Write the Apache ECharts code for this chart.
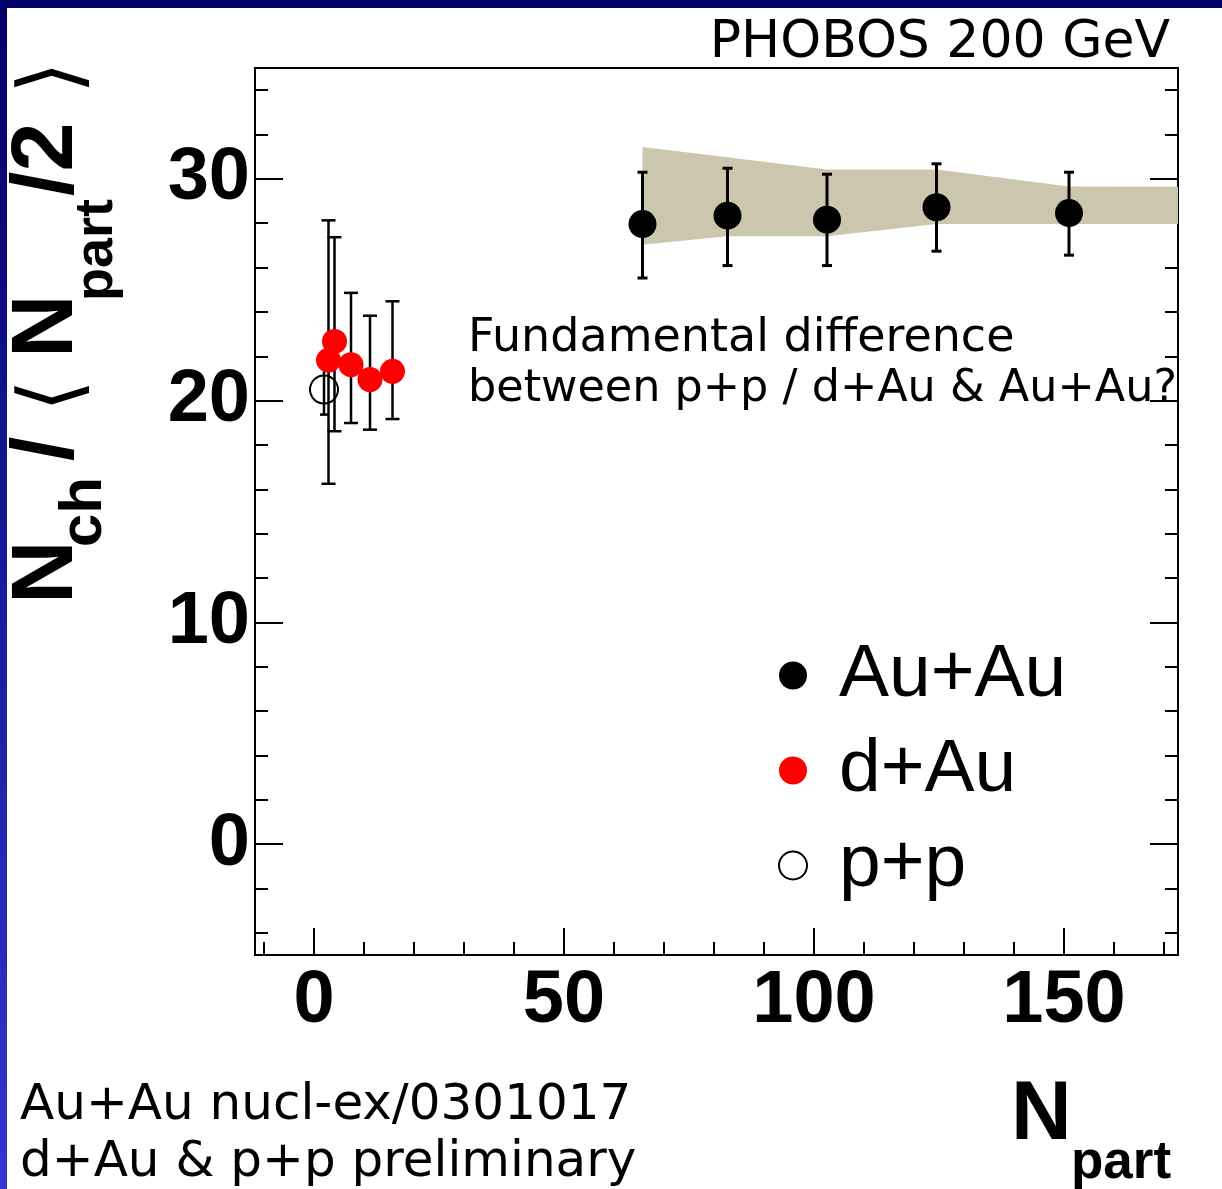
<!DOCTYPE html>
<html><head><meta charset="utf-8">
<script src="https://cdn.jsdelivr.net/npm/echarts@6/dist/echarts.min.js"></script>
<style>html,body{margin:0;padding:0;background:#fff}#c{width:1222px;height:1189px}</style>
</head><body><div id="c"></div>
<script>
// ---- data ----
const auauX  = [65.7, 82.7, 102.6, 124.5, 151.0];
const auauY  = [27.96, 28.34, 28.16, 28.72, 28.46];
const auauLo = [25.53, 26.09, 26.09, 26.74, 26.56];
const auauHi = [30.30, 30.48, 30.21, 30.68, 30.30];

const dauX  = [2.9, 4.1, 7.4, 11.2, 15.7];
const dauY  = [21.82, 22.67, 21.62, 20.95, 21.32];
const dauLo = [16.25, 18.62, 18.99, 18.69, 19.17];
const dauHi = [28.13, 27.37, 24.86, 23.83, 24.48];

const ppX  = [2.0];
const ppY  = [20.5];
const ppLo = [19.37];
const ppHi = [21.63];

// systematic band for Au+Au
const bandX  = [65.7, 82.7, 102.6, 124.5, 151.0, 172.8];
const bandHi = [31.44, 30.97, 30.42, 30.42, 29.66, 29.64];
const bandLo = [27.03, 27.41, 27.41, 27.97, 27.97, 27.97];

// ticks
const xMajorTicks = [0, 50, 100, 150];
const xMinorTicks = [-10, 10, 20, 30, 40, 60, 70, 80, 90, 110, 120, 130, 140, 160, 170];
const yMajorTicks = [0, 10, 20, 30];
const yMinorTicks = [-4, -2, 2, 4, 6, 8, 12, 14, 16, 18, 22, 24, 26, 28, 32, 34];

const X_MIN = -11.8, X_MAX = 172.8, Y_MIN = -5, Y_MAX = 35;

const FB = '"Liberation Sans", Arial, Helvetica, sans-serif';
const FV = '"DejaVu Sans", Verdana, sans-serif';

const chart = echarts.init(document.getElementById('c'));

function errorBars(name, xs, lo, hi, capHalf, lw) {
  return {
    type: 'custom', name: name, z: 3, silent: true,
    data: xs.map((x, i) => [x, lo[i], hi[i]]),
    encode: { x: 0, y: [1, 2] },
    renderItem: function (params, api) {
      const x = api.value(0);
      const a = api.coord([x, api.value(1)]);
      const b = api.coord([x, api.value(2)]);
      const st = { stroke: '#000', lineWidth: lw };
      return { type: 'group', children: [
        { type: 'line', shape: { x1: a[0], y1: a[1], x2: b[0], y2: b[1] }, style: st },
        { type: 'line', shape: { x1: a[0] - capHalf, y1: a[1], x2: a[0] + capHalf, y2: a[1] }, style: st },
        { type: 'line', shape: { x1: b[0] - capHalf, y1: b[1], x2: b[0] + capHalf, y2: b[1] }, style: st }
      ]};
    }
  };
}

function xAxisDef(ticks, len, labels) {
  return {
    type: 'value', min: X_MIN, max: X_MAX, position: 'bottom',
    axisLine: { show: labels, onZero: false, lineStyle: { color: '#000', width: 2 } },
    axisTick: { show: true, inside: true, length: len, customValues: ticks, lineStyle: { color: '#000', width: 2 } },
    axisLabel: labels ? { show: true, customValues: ticks, fontFamily: FB, fontWeight: 'bold', fontSize: 74, color: '#000', margin: 10 } : { show: false },
    splitLine: { show: false }
  };
}
function yAxisDef(pos, ticks, len, labels) {
  return {
    type: 'value', min: Y_MIN, max: Y_MAX, position: pos,
    axisLine: { show: len > 20, onZero: false, lineStyle: { color: '#000', width: 2 } },
    axisTick: { show: true, inside: true, length: len, customValues: ticks, lineStyle: { color: '#000', width: 2 } },
    axisLabel: labels ? { show: true, customValues: ticks, fontFamily: FB, fontWeight: 'bold', fontSize: 74, color: '#000', margin: 5, padding: [0, 0, 12, 0] } : { show: false },
    splitLine: { show: false }
  };
}

function t(text, x, y, font, size, weight, align, extra) {
  return Object.assign({ type: 'text', x: x, y: y, silent: true,
    style: { text: text, font: (weight || 'normal') + ' ' + size + 'px ' + font, fill: '#000',
      align: align || 'left', verticalAlign: 'middle' } }, extra || {});
}

const option = {
  animation: false,
  backgroundColor: '#fff',
  grid: { left: 255, right: 44, top: 68, bottom: 234, show: true, borderColor: '#000', borderWidth: 2, backgroundColor: 'transparent', containLabel: false },
  xAxis: [ xAxisDef(xMajorTicks, 27, true), xAxisDef(xMinorTicks, 13, false) ],
  yAxis: [ yAxisDef('left', yMajorTicks, 28, true), yAxisDef('left', yMinorTicks, 13, false),
           yAxisDef('right', yMajorTicks, 28, false), yAxisDef('right', yMinorTicks, 13, false) ],
  legend: {
    orient: 'vertical', left: 778, top: 638, padding: 0, itemGap: 20, itemWidth: 28, itemHeight: 28,
    icon: 'circle', selectedMode: false,
    textStyle: { fontFamily: FB, fontSize: 75, color: '#000', padding: [0, 0, 14, 27] },
    data: [
      { name: 'Au+Au', itemStyle: { color: '#000' } },
      { name: 'd+Au', itemStyle: { color: '#ff0000' } },
      { name: 'p+p', itemStyle: { color: 'rgba(0,0,0,0)', borderColor: '#000', borderWidth: 2 } }
    ]
  },
  series: [
    {
      type: 'custom', name: 'band', z: 1, silent: true,
      data: bandX.map((x, i) => [x, bandLo[i], bandHi[i]]),
      encode: { x: 0, y: [1, 2] },
      renderItem: function (params, api) {
        if (params.dataIndex !== 0) return null;
        const top = bandX.map((x, i) => api.coord([x, bandHi[i]]));
        const bot = bandX.map((x, i) => api.coord([x, bandLo[i]])).reverse();
        return { type: 'polygon', shape: { points: top.concat(bot) }, style: { fill: '#cdc6ae' } };
      }
    },
    errorBars('auauErr', auauX, auauLo, auauHi, 5, 3),
    errorBars('dauErr', dauX, dauLo, dauHi, 7, 2.5),
    errorBars('ppErr', ppX, ppLo, ppHi, 4, 2.5),
    { type: 'scatter', name: 'Au+Au', z: 4, symbol: 'circle', symbolSize: 28,
      itemStyle: { color: '#000', opacity: 1 },
      data: auauX.map((x, i) => [x, auauY[i]]) },
    { type: 'scatter', name: 'd+Au', z: 5, symbol: 'circle', symbolSize: 25,
      itemStyle: { color: '#ff0000', opacity: 1 },
      data: dauX.map((x, i) => [x, dauY[i]]) },
    { type: 'scatter', name: 'p+p', z: 5, symbol: 'circle', symbolSize: 28,
      itemStyle: { color: 'rgba(0,0,0,0)', borderColor: '#000', borderWidth: 2, opacity: 1 },
      data: ppX.map((x, i) => [x, ppY[i]]) }
  ],
  graphic: [
    { type: 'rect', shape: { x: 0, y: 0, width: 1222, height: 8 }, style: { fill: '#000066' }, silent: true },
    { type: 'rect', shape: { x: 0, y: 0, width: 7, height: 1189 }, silent: true,
      style: { fill: new echarts.graphic.LinearGradient(0, 0, 0, 1, [{ offset: 0, color: '#000066' }, { offset: 1, color: '#3535d0' }]) } },
    t('PHOBOS 200 GeV', 1170, 43, FV, 52, 'normal', 'right'),
    t('Fundamental difference', 468, 339, FV, 46),
    t('between p+p / d+Au & Au+Au?', 468, 389, FV, 44.5),
    t('Au+Au nucl-ex/0301017', 20, 1106, FV, 50),
    t('d+Au & p+p preliminary', 20, 1163, FV, 50),
    t('N', 1011, 1116, FB, 84, 'bold'),
    t('part', 1071, 1163, FB, 53, 'bold'),
    { type: 'group', x: 0, y: 600, rotation: Math.PI / 2, silent: true, children: [
      t('N', -4, 48, FB, 88, 'bold'),
      t('ch', 53, 84, FB, 60, 'bold'),
      t('/', 139, 48, FB, 88, 'bold'),
      t('\u27E8', 188, 56, FV, 84, 'normal'),
      t('N', 242, 48, FB, 88, 'bold'),
      t('part', 299, 97, FB, 54, 'bold'),
      t('/2', 404, 48, FB, 88, 'bold'),
      t('\u27E9', 506, 56, FV, 84, 'normal')
    ]}
  ]
};
chart.setOption(option);
</script>
</body></html>
